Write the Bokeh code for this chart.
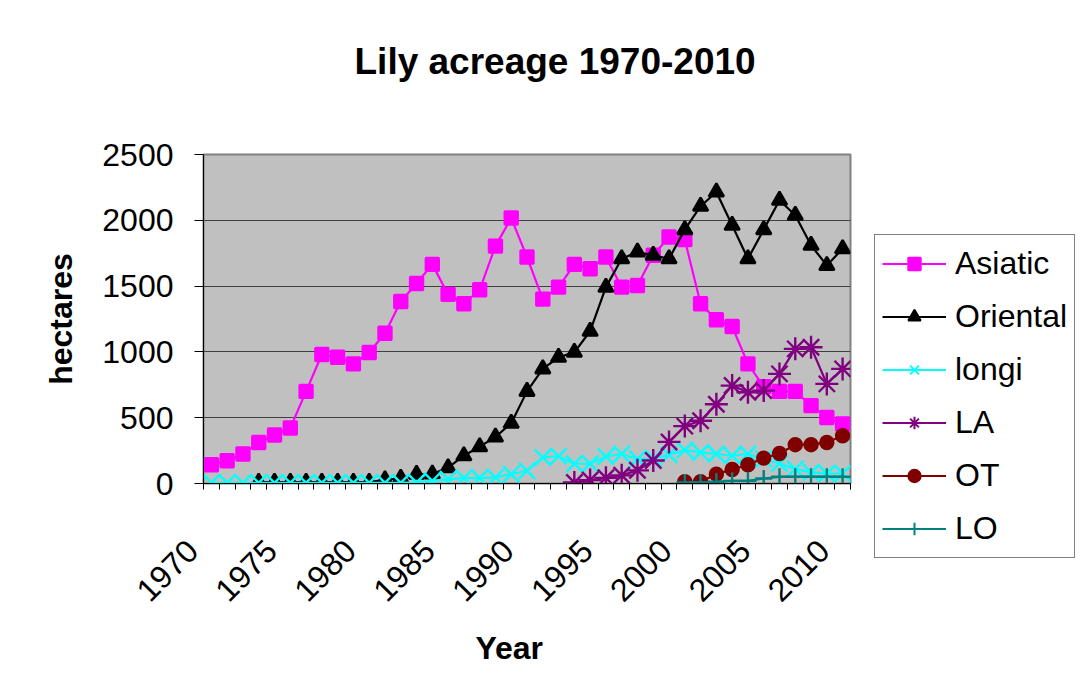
import math
import numpy as np
from bokeh.plotting import figure
from bokeh.layouts import row
from bokeh.models import Range1d, FixedTicker, Legend, LegendItem, ColumnDataSource, Title
from bokeh.embed import file_html
from bokeh.resources import INLINE

years = list(range(1970, 2011))
tick_years = [1970, 1975, 1980, 1985, 1990, 1995, 2000, 2005, 2010]
tick_labels = ["1970", "1975", "1980", "1985", "1990", "1995", "2000", "2005", "2010"]
y_ticks = [0, 500, 1000, 1500, 2000, 2500]

asiatic = [142, 173, 224, 312, 368, 422, 700, 980, 959, 909,
           995, 1142, 1383, 1520, 1665, 1437, 1366, 1472, 1804, 2017,
           1721, 1401, 1492, 1665, 1632, 1721, 1492, 1505, 1734, 1873,
           1853, 1366, 1244, 1193, 909, 736, 700, 700, 592, 502, 452]
oriental = [None, None, None, 10, 10, 10, 10, 10, 10, 10,
            10, 28, 40, 70, 72, 120, 211, 280, 353, 458,
            700, 871, 959, 997, 1157, 1492, 1708, 1759, 1734, 1708,
            1929, 2107, 2215, 1962, 1708, 1929, 2152, 2038, 1810, 1657, 1784]
longi = [5, 5, 5, 5, 5, 5, 5, 5, 5, 5,
         5, 5, 5, 8, 20, 33, 41, 41, 46, 71,
         97, 198, 207, 150, 150, 205, 224, 186, 190, 218,
         254, 236, 224, 211, 224, 186, 152, 110, 84, 76, 76]
la = [None, None, None, None, None, None, None, None, None, None,
      None, None, None, None, None, None, None, None, None, None,
      None, None, None, 8, 26, 43, 62, 100, 175, 316,
      436, 477, 602, 744, 693, 706, 833, 1023, 1035, 757, 871]
ot = [None, None, None, None, None, None, None, None, None, None,
      None, None, None, None, None, None, None, None, None, None,
      None, None, None, None, None, None, None, None, None, None,
      13, 13, 71, 106, 142, 193, 228, 295, 295, 312, 363]
lo = [None, None, None, None, None, None, None, None, None, None,
      None, None, None, None, None, None, None, None, None, None,
      None, None, None, None, None, None, None, None, None, None,
      8, 8, 13, 20, 20, 38, 51, 51, 51, 51, 51]

FONT = "Liberation Sans"
NB = "\u00a0"

p = figure(width=874, height=689, output_backend="svg", toolbar_location=None,
           x_range=Range1d(1969.5, 2010.5), y_range=Range1d(0, 2500),
           min_border_left=203, min_border_right=24, min_border_top=154,
           min_border_bottom=206)
p.frame_align = False
p.title.text = ""

spacer = Title(text=" ", text_font_size="10px", standoff=55)
p.add_layout(spacer, "above")
main_title = Title(text="Lily acreage 1970-2010", text_font=FONT, text_font_size="37px",
                   text_font_style="bold", text_color="black", align="left",
                   offset=151, standoff=10)
p.add_layout(main_title, "above")

p.background_fill_color = "#C0C0C0"
p.border_fill_color = "white"
p.outline_line_color = "#808080"
p.outline_line_width = 2

# x axis
xa = p.xaxis[0]
xa.ticker = FixedTicker(ticks=tick_years, minor_ticks=[y - 0.5 for y in years] + [years[-1] + 0.5])
xa.major_label_overrides = {y: s + NB * 3 for y, s in zip(tick_years, tick_labels)}
xa.major_label_orientation = math.pi / 4
xa.major_tick_out = 0
xa.major_tick_in = 0
xa.minor_tick_out = 6
xa.minor_tick_in = 0
xa.minor_tick_line_color = "black"
xa.axis_line_color = "black"
xa.major_label_standoff = 37
xa.major_label_text_font = FONT
xa.major_label_text_font_size = "32px"
xa.major_label_text_color = "black"
xa.axis_label = "Year" + NB * 4
xa.axis_label_text_font = FONT
xa.axis_label_text_font_size = "32px"
xa.axis_label_text_font_style = "bold"
xa.axis_label_text_color = "black"
xa.axis_label_standoff = 6

# y axis
ya = p.yaxis[0]
ya.ticker = FixedTicker(ticks=y_ticks, minor_ticks=[])
ya.major_tick_out = 9
ya.major_tick_in = 0
ya.major_tick_line_color = "black"
ya.axis_line_color = "black"
ya.major_label_standoff = 21
ya.major_label_text_font = FONT
ya.major_label_text_font_size = "32px"
ya.major_label_text_color = "black"
ya.axis_label = "hectares"
ya.axis_label_text_font = FONT
ya.axis_label_text_font_size = "32px"
ya.axis_label_text_font_style = "bold"
ya.axis_label_text_color = "black"
ya.axis_label_standoff = 20

p.xgrid.visible = False
p.ygrid.ticker = FixedTicker(ticks=y_ticks)
p.ygrid.grid_line_color = "#404040"
p.ygrid.grid_line_width = 1

series = [
    ("Asiatic", asiatic, "#FF00FF", "square", 13),
    ("Oriental", oriental, "black", "triangle", 15),
    ("longi", longi, "#00FFFF", "x", 23),
    ("LA", la, "#800080", "asterisk", 23),
    ("OT", ot, "#800000", "circle", 13),
    ("LO", lo, "#008080", "cross", 17),
]

# legend panel as a separate figure to the right
pl = figure(width=212, height=689, output_backend="svg", toolbar_location=None,
            x_range=Range1d(0, 1), y_range=Range1d(0, 1),
            min_border_left=0, min_border_right=0, min_border_top=0, min_border_bottom=0)
pl.frame_align = False
pl.title.text = ""
pl.axis.visible = False
pl.grid.visible = False
pl.outline_line_color = None
pl.background_fill_color = "white"
pl.border_fill_color = "white"

items = []
for name, vals, color, marker, size in series:
    src = ColumnDataSource(dict(x=years, y=np.array(vals, dtype=float)))
    p.line("x", "y", source=src, line_color=color, line_width=2.2)
    p.scatter("x", "y", source=src, marker=marker, size=size,
              fill_color=color, line_color=color, line_width=2.4)
    # off-range placeholder renderers that only feed the legend
    dummy = ColumnDataSource(dict(x=[5.0], y=[5.0]))
    lr = pl.line("x", "y", source=dummy, line_color=color, line_width=2.2)
    sr = pl.scatter("x", "y", source=dummy, marker=marker, size=size,
                    fill_color=color, line_color=color, line_width=2)
    items.append(LegendItem(label=name, renderers=[lr, sr]))

legend = Legend(items=items, location=(0, 131))
legend.label_text_font = FONT
legend.label_text_font_size = "32px"
legend.label_text_color = "black"
legend.glyph_width = 64
legend.glyph_height = 31
legend.label_height = 43
legend.label_standoff = 9
legend.spacing = 10
legend.padding = 7
legend.margin = 0
legend.border_line_color = "black"
legend.border_line_width = 1
legend.background_fill_color = "white"
legend.background_fill_alpha = 1
pl.add_layout(legend, "center")

layout = row(p, pl)
open("out.html", "w").write(file_html(layout, INLINE))
